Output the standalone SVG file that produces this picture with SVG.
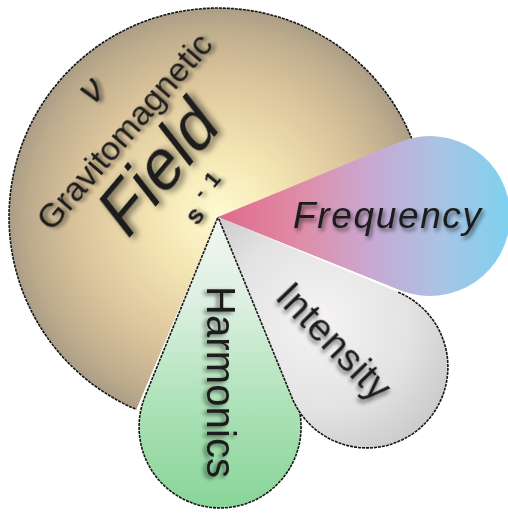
<svg xmlns="http://www.w3.org/2000/svg" width="508" height="513" viewBox="0 0 508 513">
  <defs>
    <radialGradient id="gCircle" gradientUnits="userSpaceOnUse" cx="218" cy="217" r="212" fx="220" fy="215">
      <stop offset="0" stop-color="#fffad0"/>
      <stop offset="0.3" stop-color="#f4e6b3"/>
      <stop offset="0.65" stop-color="#dcc59c"/>
      <stop offset="0.9" stop-color="#bcab8c"/>
      <stop offset="1" stop-color="#a89b85"/>
    </radialGradient>
    <linearGradient id="gHarm" gradientUnits="userSpaceOnUse" x1="0" y1="217" x2="0" y2="508">
      <stop offset="0" stop-color="#f4f6f2"/>
      <stop offset="0.3" stop-color="#dcefe0"/>
      <stop offset="0.65" stop-color="#ace2b7"/>
      <stop offset="1" stop-color="#88d599"/>
    </linearGradient>
    <radialGradient id="gInt" gradientUnits="userSpaceOnUse" cx="320" cy="320" r="150">
      <stop offset="0" stop-color="#f5f3f3"/>
      <stop offset="0.6" stop-color="#e4e3e3"/>
      <stop offset="1" stop-color="#cacaca"/>
    </radialGradient>
    <linearGradient id="gFreq" gradientUnits="userSpaceOnUse" x1="218" y1="0" x2="510" y2="0">
      <stop offset="0" stop-color="#e06a8b"/>
      <stop offset="0.28" stop-color="#df8ca7"/>
      <stop offset="0.52" stop-color="#c9a8d2"/>
      <stop offset="0.76" stop-color="#aac3e5"/>
      <stop offset="1" stop-color="#7dd2ef"/>
    </linearGradient>
    <filter id="sh" x="-20%" y="-20%" width="140%" height="140%">
      <feGaussianBlur in="SourceAlpha" stdDeviation="2.2"/>
      <feOffset dx="2" dy="3" result="b"/>
      <feComponentTransfer><feFuncA type="linear" slope="0.55"/></feComponentTransfer>
      <feMerge><feMergeNode/><feMergeNode in="SourceGraphic"/></feMerge>
    </filter>
    <filter id="shBig" x="-20%" y="-20%" width="140%" height="140%">
      <feGaussianBlur in="SourceAlpha" stdDeviation="3.5"/>
      <feOffset dx="3" dy="4" result="b"/>
      <feComponentTransfer><feFuncA type="linear" slope="0.6"/></feComponentTransfer>
      <feMerge><feMergeNode/><feMergeNode in="SourceGraphic"/></feMerge>
    </filter>
  </defs>
  <style>
    .edge { fill: none; stroke: #161616; stroke-width: 1.6; stroke-dasharray: 3 1; }
    .lbl { font-family: "Liberation Sans", Arial, sans-serif; fill: #1b1b1b; }
  </style>

  <g id="field-circle">
    <path d="M218,217 L411.8,138.7 A209,209 0 1,0 136.3,409.4 Z" fill="url(#gCircle)"/>
    <path class="edge" d="M411.8,138.7 A209,209 0 1,0 136.3,409.4"/>
    <text class="lbl" font-family="Liberation Serif" font-style="italic" font-size="38" text-anchor="middle" transform="translate(100,99) rotate(-45)" filter="url(#sh)">ν</text>
    <text class="lbl" font-size="34" text-anchor="middle" textLength="248" transform="translate(133,139) rotate(-49)" filter="url(#sh)">Gravitomagnetic</text>
    <text class="lbl" font-size="68" transform="translate(126,242) rotate(-50) skewX(-12)" filter="url(#shBig)">Field</text>
    <text class="lbl" font-weight="bold" font-size="26" transform="translate(195,216) rotate(-50)" filter="url(#sh)"><tspan x="-7" y="8">s</tspan><tspan x="17" y="-5" font-size="20">-</tspan><tspan x="33" y="-3" font-size="22">1</tspan></text>
  </g>

  <g id="harmonics">
    <path d="M218,217 L294.5,395 A81,81 0 1,1 145,396.5 Z" fill="url(#gHarm)"/>
    <path class="edge" d="M294.5,395 A81,81 0 1,1 145,396.5 L218,217"/>
    <text class="lbl" font-size="40" textLength="192" transform="translate(207,286) rotate(90)" filter="url(#sh)">Harmonics</text>
  </g>

  <g id="intensity">
    <path d="M218,217 L398.2,292.2 A81,81 0 1,1 292,397.7 Z" fill="url(#gInt)"/>
    <path class="edge" d="M398.2,292.2 A81,81 0 1,1 292,397.7 L218,217"/>
    <text class="lbl" font-size="38" textLength="146" transform="translate(274,298) rotate(46)" filter="url(#sh)">Intensity</text>
  </g>

  <g id="frequency">
    <path d="M218,217 L399.4,142.1 A80,80 0 1,1 400.1,290.2 Z" fill="url(#gFreq)"/>
    <text class="lbl" font-style="italic" font-size="37" textLength="188" x="293" y="228" fill="#17172e" filter="url(#sh)">Frequency</text>
  </g>

  <g id="connectors"/>
</svg>
